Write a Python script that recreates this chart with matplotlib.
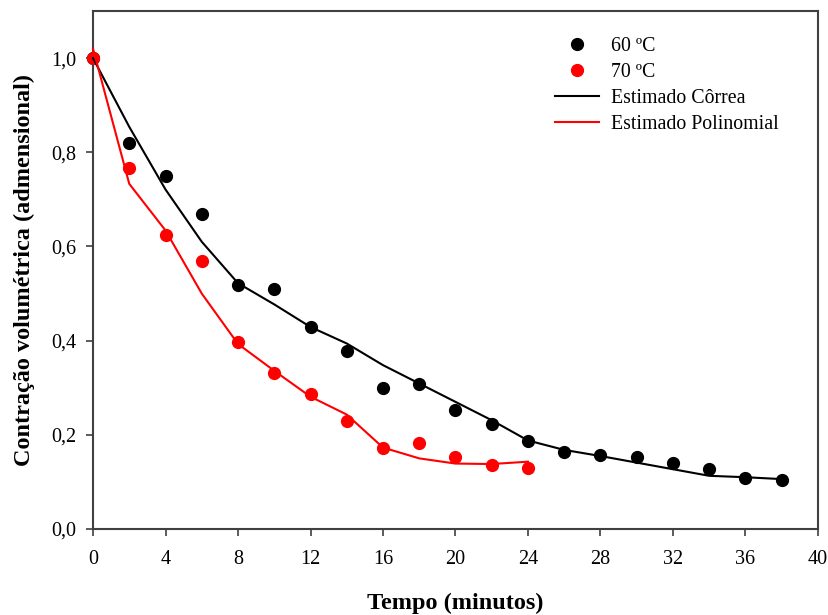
import matplotlib.pyplot as plt
from matplotlib.ticker import FuncFormatter, MultipleLocator

# --- Data ---
t_60 = [0, 2, 4, 6, 8, 10, 12, 14, 16, 18, 20, 22, 24, 26, 28, 30, 32, 34, 36, 38]
cv_60 = [1.0, 0.819, 0.750, 0.668, 0.518, 0.509, 0.428, 0.378, 0.299, 0.309,
         0.253, 0.223, 0.186, 0.164, 0.158, 0.152, 0.141, 0.127, 0.109, 0.105]

t_70 = [0, 2, 4, 6, 8, 10, 12, 14, 16, 18, 20, 22, 24]
cv_70 = [1.0, 0.766, 0.625, 0.569, 0.398, 0.332, 0.287, 0.229, 0.171, 0.183,
         0.153, 0.137, 0.129]

# model curves
fit_60 = [1.0, 0.854, 0.721, 0.610, 0.522, 0.477, 0.429, 0.394, 0.348, 0.309,
          0.270, 0.231, 0.188, 0.168, 0.155, 0.141, 0.127, 0.113, 0.110, 0.106]
fit_70 = [1.02, 0.733, 0.634, 0.500, 0.393, 0.336, 0.281, 0.243, 0.173, 0.150,
          0.139, 0.138, 0.143]

plt.rcParams['font.family'] = ['Liberation Serif', 'DejaVu Serif']

fig = plt.figure(figsize=(8.29, 6.15), dpi=100)
ax = fig.add_axes([0.1122, 0.1398, 0.8745, 0.8423])

ax.plot(t_60, cv_60, 'o', color='black', markersize=8.5, clip_on=False,
        label='60 ºC', zorder=3)
ax.plot(t_70, cv_70, 'o', color='red', markersize=8.5, clip_on=False,
        label='70 ºC', zorder=3)
ax.plot(t_60, fit_60, '-', color='black', linewidth=1.5, clip_on=False,
        label='Estimado Côrrea', zorder=4)
ax.plot(t_70, fit_70, '-', color='red', linewidth=1.5, clip_on=False,
        label='Estimado Polinomial', zorder=4)

ax.set_xlim(0, 40)
ax.set_ylim(0, 1.1)
ax.xaxis.set_major_locator(MultipleLocator(4))
ax.set_yticks([0, 0.2, 0.4, 0.6, 0.8, 1.0])
ax.yaxis.set_major_formatter(FuncFormatter(lambda v, p: f'{v:.1f}'.replace('.', ',')))

for s in ax.spines.values():
    s.set_color('#404040')
    s.set_linewidth(1.5)
ax.tick_params(direction='out', length=5, width=1.2, color='#404040',
               labelsize=14.5)
ax.tick_params(axis='x', pad=10)
ax.tick_params(axis='y', pad=7)

ax.set_xlabel('Tempo (minutos)', fontsize=17.5, fontweight='bold', labelpad=17)
ax.set_ylabel('Contração volumétrica (admensional)', fontsize=17.5,
              fontweight='bold', labelpad=12)

ax.legend(loc='upper left', bbox_to_anchor=(0.626, 0.965), borderaxespad=0,
          frameon=False, fontsize=14.3, handlelength=2.25, handletextpad=0.6,
          labelspacing=0.35)

plt.savefig('out.png', dpi=100)
